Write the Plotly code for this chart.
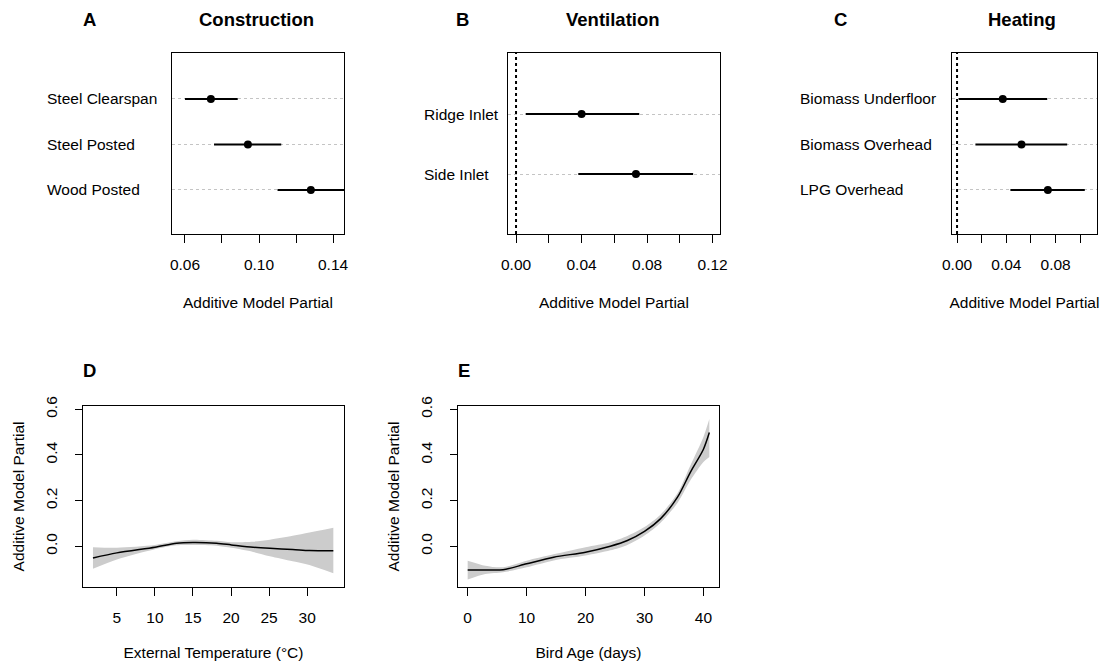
import plotly.graph_objects as go

# ---- data -------------------------------------------------------------
construction_cats = ["Steel Clearspan", "Steel Posted", "Wood Posted"]
construction_est = [0.074, 0.094, 0.128]
construction_lo = [0.060, 0.0757, 0.110]
construction_hi = [0.0885, 0.112, 0.150]

ventilation_cats = ["Ridge Inlet", "Side Inlet"]
ventilation_est = [0.040, 0.0732]
ventilation_lo = [0.0059, 0.038]
ventilation_hi = [0.0752, 0.1081]

heating_cats = ["Biomass Underfloor", "Biomass Overhead", "LPG Overhead"]
heating_est = [0.0371, 0.0523, 0.0737]
heating_lo = [0.0013, 0.0149, 0.0433]
heating_hi = [0.0732, 0.0894, 0.1037]

temp_c = [1.86, 5.0, 10.0, 12.85, 15.0, 18.1, 20.05, 22.9, 25.1, 28.1, 30.3, 33.44]
temp_fit = [-0.051, -0.029, -0.004, 0.013, 0.016, 0.013, 0.006, -0.004, -0.009, -0.014, -0.019, -0.020]
temp_upper = [-0.004, -0.006, 0.006, 0.022, 0.029, 0.024, 0.018, 0.020, 0.029, 0.046, 0.060, 0.081]
temp_lower = [-0.099, -0.058, -0.013, 0.004, 0.005, 0.002, -0.007, -0.025, -0.044, -0.066, -0.082, -0.118]

age_days = [0, 3, 6, 10, 14.6, 20, 24.2, 27.1, 30, 32.7, 35.6, 37.8, 40, 41]
age_fit = [-0.104, -0.104, -0.103, -0.077, -0.048, -0.026, 0.0, 0.025, 0.065, 0.120, 0.215, 0.325, 0.425, 0.498]
age_upper = [-0.063, -0.085, -0.092, -0.063, -0.035, -0.004, 0.018, 0.045, 0.084, 0.138, 0.232, 0.355, 0.479, 0.557]
age_lower = [-0.146, -0.122, -0.114, -0.092, -0.062, -0.041, -0.018, 0.006, 0.047, 0.102, 0.190, 0.289, 0.369, 0.391]

# ---- layout helpers -------------------------------------------------------
W, H = 1107, 665
FONT = "Liberation Sans, Arial, sans-serif"
TXT = 15.5     # axis / label text size
HEAD = 18.5    # bold panel headings


def xdom(left, right):
    return [left / W, right / W]


def ydom(top, bottom):
    return [1 - bottom / H, 1 - top / H]


def txt_font(size=TXT):
    return dict(family=FONT, size=size, color="black")


fig = go.Figure()
annotations = []
shapes = []

box_axis = dict(showline=True, mirror=True, linecolor="black", linewidth=1,
                zeroline=False, showgrid=False, automargin=False)


def dot_panel(n, cats, est, lo, hi, left, right, xrange, ticks, labels, label_x,
              yrange, zero_line):
    xa, ya = f"x{n}", f"y{n}"
    pos = list(range(1, len(cats) + 1))
    seg_x, seg_y = [], []
    for p, a, b in zip(pos, lo, hi):
        seg_x += [a, b, None]
        seg_y += [p, p, None]
    fig.add_trace(go.Scatter(x=seg_x, y=seg_y, mode="lines", xaxis=xa, yaxis=ya,
                             line=dict(color="black", width=2), hoverinfo="skip",
                             showlegend=False))
    fig.add_trace(go.Scatter(x=est, y=pos, mode="markers", xaxis=xa, yaxis=ya,
                             marker=dict(color="black", size=8), showlegend=False,
                             cliponaxis=False))
    key = "" if n == 1 else str(n)
    fig.layout[f"xaxis{key}"] = dict(
        domain=xdom(left, right), anchor=ya, range=xrange,
        tickmode="array", tickvals=ticks, ticktext=labels,
        ticks="outside", ticklen=8, tickcolor="black",
        ticklabelstandoff=8, tickfont=txt_font(),
        title=dict(text="Additive Model Partial", standoff=25, font=txt_font()),
        **box_axis)
    fig.layout[f"yaxis{key}"] = dict(
        domain=ydom(53, 234), anchor=xa, range=yrange,
        tickmode="array", tickvals=pos, showticklabels=False, ticks="",
        showline=True, mirror=True, linecolor="black", linewidth=1,
        zeroline=False, showgrid=True, gridcolor="#c4c4c4", gridwidth=1,
        griddash="3px,3px", automargin=False)
    for p, c in zip(pos, cats):
        annotations.append(dict(x=label_x / W, xref="paper", y=p, yref=ya,
                                text=c, showarrow=False, xanchor="left",
                                font=txt_font()))
    if zero_line:
        shapes.append(dict(type="line", xref=xa, yref=f"{ya} domain",
                           x0=0, x1=0, y0=0, y1=1,
                           line=dict(color="black", width=2, dash="dot")))


dot_panel(1, construction_cats, construction_est, construction_lo, construction_hi,
          172, 344, [0.0530, 0.1459],
          [0.06, 0.08, 0.10, 0.12, 0.14], ["0.06", "", "0.10", "", "0.14"],
          45, [3.97, -0.01], False)
dot_panel(2, ventilation_cats, ventilation_est, ventilation_lo, ventilation_hi,
          508, 720, [-0.0049, 0.1245],
          [0.0, 0.02, 0.04, 0.06, 0.08, 0.10, 0.12],
          ["0.00", "", "0.04", "", "0.08", "", "0.12"],
          422, [3.0, -0.017], True)
dot_panel(3, heating_cats, heating_est, heating_lo, heating_hi,
          952, 1097, [-0.0041, 0.1136],
          [0.0, 0.02, 0.04, 0.06, 0.08, 0.10],
          ["0.00", "", "0.04", "", "0.08", ""],
          798, [3.97, -0.01], True)


def smooth_panel(n, xs, fit, upper, lower, left, right, xrange, xticks, xtitle):
    xa, ya = f"x{n}", f"y{n}"
    fig.add_trace(go.Scatter(x=xs, y=upper, mode="lines", xaxis=xa, yaxis=ya,
                             line=dict(width=0, shape="spline", smoothing=0.8,
                                       color="#cccccc"),
                             hoverinfo="skip", showlegend=False))
    fig.add_trace(go.Scatter(x=xs, y=lower, mode="lines", xaxis=xa, yaxis=ya,
                             line=dict(width=0, shape="spline", smoothing=0.8,
                                       color="#cccccc"),
                             fill="tonexty", fillcolor="#cccccc",
                             hoverinfo="skip", showlegend=False))
    fig.add_trace(go.Scatter(x=xs, y=fit, mode="lines", xaxis=xa, yaxis=ya,
                             line=dict(color="black", width=1.5, shape="spline",
                                       smoothing=0.8),
                             showlegend=False))
    fig.layout[f"xaxis{n}"] = dict(
        domain=xdom(left, right), anchor=ya, range=xrange,
        tickmode="array", tickvals=xticks, ticks="outside", ticklen=8,
        tickcolor="black", ticklabelstandoff=8, tickfont=txt_font(),
        title=dict(text=xtitle, standoff=22, font=txt_font()),
        **box_axis)
    fig.layout[f"yaxis{n}"] = dict(
        domain=ydom(406, 587), anchor=xa, range=[-0.1785, 0.6145],
        tickmode="array", tickvals=[0.0, 0.2, 0.4, 0.6],
        ticktext=["0.0", "0.2", "0.4", "0.6"], tickangle=-90,
        ticks="outside", ticklen=7, tickcolor="black", ticklabelstandoff=12,
        tickfont=txt_font(),
        title=dict(text="Additive Model Partial", standoff=14, font=txt_font()),
        **box_axis)


smooth_panel(4, temp_c, temp_fit, temp_upper, temp_lower, 83, 344,
             [0.55, 34.84], [5, 10, 15, 20, 25, 30], "External Temperature (°C)")
smooth_panel(5, age_days, age_fit, age_upper, age_lower, 458, 719,
             [-1.64, 42.64], [0, 10, 20, 30, 40], "Bird Age (days)")

# panel letters and titles
for letter, lx, ly in [("A", 89, 19), ("B", 462, 19), ("C", 840, 19),
                       ("D", 89, 370), ("E", 464, 370)]:
    annotations.append(dict(x=lx / W, y=1 - ly / H, xref="paper", yref="paper",
                            xanchor="center", yanchor="middle",
                            text=f"<b>{letter}</b>", showarrow=False,
                            font=txt_font(HEAD)))
for title, tx in [("Construction", 256), ("Ventilation", 613), ("Heating", 1022)]:
    annotations.append(dict(x=tx / W, y=1 - 19 / H, xref="paper", yref="paper",
                            xanchor="center", yanchor="middle",
                            text=f"<b>{title}</b>", showarrow=False,
                            font=txt_font(HEAD)))

fig.update_layout(
    width=W, height=H,
    margin=dict(l=0, r=0, t=0, b=0, autoexpand=False),
    paper_bgcolor="white", plot_bgcolor="white",
    annotations=annotations, shapes=shapes,
    showlegend=False,
    font=txt_font(),
)

fig.write_html("out.html")
